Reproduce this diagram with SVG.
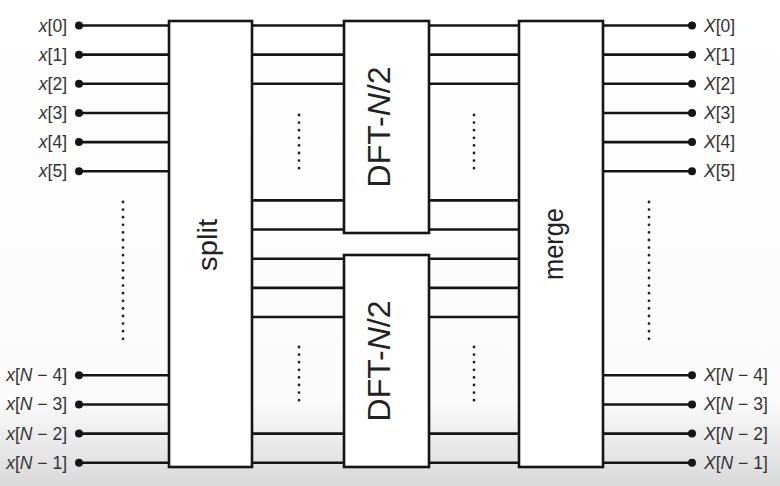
<svg xmlns="http://www.w3.org/2000/svg" width="780" height="486" viewBox="0 0 780 486">
<defs>
<linearGradient id="bg" x1="0" y1="0" x2="0" y2="1">
<stop offset="0" stop-color="#ffffff"/>
<stop offset="0.82" stop-color="#fbfbfb"/>
<stop offset="1" stop-color="#d9d9d9"/>
</linearGradient>
<style>
.box{fill:#ffffff;stroke:#151515;stroke-width:2.6}
.w{stroke:#151515;stroke-width:2.6;fill:none}
.dot{fill:#151515}
.dots{stroke:#222;stroke-width:2.8;stroke-linecap:round;stroke-dasharray:0 7.6;fill:none}
.lbl{font-family:"Liberation Sans",Arial,sans-serif;font-size:17.5px;fill:#333}
.it{font-style:italic}
.big{font-family:"Liberation Sans",Arial,sans-serif;fill:#222;text-anchor:middle}
</style>
</defs>
<rect width="780" height="486" fill="url(#bg)"/>
<g id="connectors">
<!-- inputs -->
<line class="w" x1="79" y1="25.5" x2="169" y2="25.5"/>
<line class="w" x1="79" y1="54.65" x2="169" y2="54.65"/>
<line class="w" x1="79" y1="83.8" x2="169" y2="83.8"/>
<line class="w" x1="79" y1="112.95" x2="169" y2="112.95"/>
<line class="w" x1="79" y1="142.1" x2="169" y2="142.1"/>
<line class="w" x1="79" y1="171.25" x2="169" y2="171.25"/>
<line class="w" x1="79" y1="375.3" x2="169" y2="375.3"/>
<line class="w" x1="79" y1="404.45" x2="169" y2="404.45"/>
<line class="w" x1="79" y1="433.6" x2="169" y2="433.6"/>
<line class="w" x1="79" y1="462.75" x2="169" y2="462.75"/>
<circle class="dot" cx="79" cy="25.5" r="4"/>
<circle class="dot" cx="79" cy="54.65" r="4"/>
<circle class="dot" cx="79" cy="83.8" r="4"/>
<circle class="dot" cx="79" cy="112.95" r="4"/>
<circle class="dot" cx="79" cy="142.1" r="4"/>
<circle class="dot" cx="79" cy="171.25" r="4"/>
<circle class="dot" cx="79" cy="375.3" r="4"/>
<circle class="dot" cx="79" cy="404.45" r="4"/>
<circle class="dot" cx="79" cy="433.6" r="4"/>
<circle class="dot" cx="79" cy="462.75" r="4"/>
<!-- split to DFT -->
<line class="w" x1="252" y1="25.5" x2="344" y2="25.5"/>
<line class="w" x1="252" y1="54.65" x2="344" y2="54.65"/>
<line class="w" x1="252" y1="83.8" x2="344" y2="83.8"/>
<line class="w" x1="252" y1="200.4" x2="344" y2="200.4"/>
<line class="w" x1="252" y1="229.55" x2="344" y2="229.55"/>
<line class="w" x1="252" y1="258.7" x2="344" y2="258.7"/>
<line class="w" x1="252" y1="287.85" x2="344" y2="287.85"/>
<line class="w" x1="252" y1="317" x2="344" y2="317"/>
<line class="w" x1="252" y1="433.6" x2="344" y2="433.6"/>
<line class="w" x1="252" y1="462.75" x2="344" y2="462.75"/>
<!-- DFT to merge -->
<line class="w" x1="429" y1="25.5" x2="519" y2="25.5"/>
<line class="w" x1="429" y1="54.65" x2="519" y2="54.65"/>
<line class="w" x1="429" y1="83.8" x2="519" y2="83.8"/>
<line class="w" x1="429" y1="200.4" x2="519" y2="200.4"/>
<line class="w" x1="429" y1="229.55" x2="519" y2="229.55"/>
<line class="w" x1="429" y1="258.7" x2="519" y2="258.7"/>
<line class="w" x1="429" y1="287.85" x2="519" y2="287.85"/>
<line class="w" x1="429" y1="317" x2="519" y2="317"/>
<line class="w" x1="429" y1="433.6" x2="519" y2="433.6"/>
<line class="w" x1="429" y1="462.75" x2="519" y2="462.75"/>
<!-- outputs -->
<line class="w" x1="603" y1="25.5" x2="692" y2="25.5"/>
<line class="w" x1="603" y1="54.65" x2="692" y2="54.65"/>
<line class="w" x1="603" y1="83.8" x2="692" y2="83.8"/>
<line class="w" x1="603" y1="112.95" x2="692" y2="112.95"/>
<line class="w" x1="603" y1="142.1" x2="692" y2="142.1"/>
<line class="w" x1="603" y1="171.25" x2="692" y2="171.25"/>
<line class="w" x1="603" y1="375.3" x2="692" y2="375.3"/>
<line class="w" x1="603" y1="404.45" x2="692" y2="404.45"/>
<line class="w" x1="603" y1="433.6" x2="692" y2="433.6"/>
<line class="w" x1="603" y1="462.75" x2="692" y2="462.75"/>
<circle class="dot" cx="692" cy="25.5" r="4"/>
<circle class="dot" cx="692" cy="54.65" r="4"/>
<circle class="dot" cx="692" cy="83.8" r="4"/>
<circle class="dot" cx="692" cy="112.95" r="4"/>
<circle class="dot" cx="692" cy="142.1" r="4"/>
<circle class="dot" cx="692" cy="171.25" r="4"/>
<circle class="dot" cx="692" cy="375.3" r="4"/>
<circle class="dot" cx="692" cy="404.45" r="4"/>
<circle class="dot" cx="692" cy="433.6" r="4"/>
<circle class="dot" cx="692" cy="462.75" r="4"/>
<!-- ellipsis dots -->
<line class="dots" x1="123" y1="202" x2="123" y2="346"/>
<line class="dots" x1="649" y1="202" x2="649" y2="346"/>
<line class="dots" x1="299" y1="115" x2="299" y2="172"/>
<line class="dots" x1="474" y1="115" x2="474" y2="172"/>
<line class="dots" x1="299" y1="347" x2="299" y2="404"/>
<line class="dots" x1="474" y1="347" x2="474" y2="404"/>
</g>
<g id="split">
<rect class="box" x="169" y="21" width="83" height="446"/>
<text class="big" transform="translate(217,245) rotate(-90)" font-size="27" textLength="52" lengthAdjust="spacingAndGlyphs">split</text>
</g>
<g id="dft-top">
<rect class="box" x="344" y="21" width="85" height="212"/>
<text class="big" transform="translate(390,127) rotate(-90)" font-size="31.5" textLength="121" lengthAdjust="spacingAndGlyphs">DFT-<tspan class="it">N</tspan>/2</text>
</g>
<g id="dft-bottom">
<rect class="box" x="344" y="255" width="85" height="212"/>
<text class="big" transform="translate(390,361) rotate(-90)" font-size="31.5" textLength="121" lengthAdjust="spacingAndGlyphs">DFT-<tspan class="it">N</tspan>/2</text>
</g>
<g id="merge">
<rect class="box" x="519" y="21" width="84" height="446"/>
<text class="big" transform="translate(563,244) rotate(-90)" font-size="27" textLength="72" lengthAdjust="spacingAndGlyphs">merge</text>
</g>
<g id="input-labels" class="lbl" text-anchor="end">
<text x="67" y="31.5"><tspan class="it">x</tspan>[0]</text>
<text x="67" y="60.65"><tspan class="it">x</tspan>[1]</text>
<text x="67" y="89.8"><tspan class="it">x</tspan>[2]</text>
<text x="67" y="118.95"><tspan class="it">x</tspan>[3]</text>
<text x="67" y="148.1"><tspan class="it">x</tspan>[4]</text>
<text x="67" y="177.25"><tspan class="it">x</tspan>[5]</text>
<text x="67" y="381.3"><tspan class="it">x</tspan>[<tspan class="it">N</tspan> − 4]</text>
<text x="67" y="410.45"><tspan class="it">x</tspan>[<tspan class="it">N</tspan> − 3]</text>
<text x="67" y="439.6"><tspan class="it">x</tspan>[<tspan class="it">N</tspan> − 2]</text>
<text x="67" y="468.75"><tspan class="it">x</tspan>[<tspan class="it">N</tspan> − 1]</text>
</g>
<g id="output-labels" class="lbl">
<text x="704" y="31.5"><tspan class="it">X</tspan>[0]</text>
<text x="704" y="60.65"><tspan class="it">X</tspan>[1]</text>
<text x="704" y="89.8"><tspan class="it">X</tspan>[2]</text>
<text x="704" y="118.95"><tspan class="it">X</tspan>[3]</text>
<text x="704" y="148.1"><tspan class="it">X</tspan>[4]</text>
<text x="704" y="177.25"><tspan class="it">X</tspan>[5]</text>
<text x="704" y="381.3"><tspan class="it">X</tspan>[<tspan class="it">N</tspan> − 4]</text>
<text x="704" y="410.45"><tspan class="it">X</tspan>[<tspan class="it">N</tspan> − 3]</text>
<text x="704" y="439.6"><tspan class="it">X</tspan>[<tspan class="it">N</tspan> − 2]</text>
<text x="704" y="468.75"><tspan class="it">X</tspan>[<tspan class="it">N</tspan> − 1]</text>
</g>
</svg>
